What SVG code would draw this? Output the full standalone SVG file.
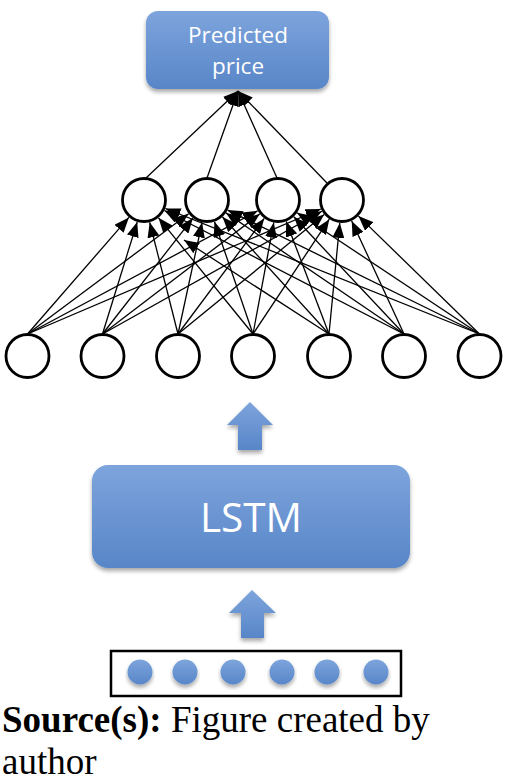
<svg xmlns="http://www.w3.org/2000/svg" width="505" height="783" viewBox="0 0 505 783">
<defs>
<linearGradient id="blue" x1="0" y1="0" x2="0" y2="1">
<stop offset="0" stop-color="#7da4dc"/>
<stop offset="1" stop-color="#5886c8"/>
</linearGradient>
<filter id="sh" x="-10%" y="-10%" width="120%" height="130%">
<feGaussianBlur in="SourceAlpha" stdDeviation="2"/>
<feOffset dx="0" dy="3" result="b"/>
<feComponentTransfer><feFuncA type="linear" slope="0.35"/></feComponentTransfer>
<feMerge><feMergeNode/><feMergeNode in="SourceGraphic"/></feMerge>
</filter>
<marker id="ah" markerUnits="userSpaceOnUse" markerWidth="16" markerHeight="12" refX="15" refY="6" orient="auto">
<path d="M0,0 L15,6 L0,12 z" fill="#000"/>
</marker>
</defs>
<style>
.box{fill:url(#blue);filter:url(#sh)}
.lbl{font-family:"Open Sans","Liberation Sans",sans-serif;fill:#fff;text-anchor:middle}
.neuron{fill:#fff;stroke:#000;stroke-width:2.8}
.edge{stroke:#000;stroke-width:1.3;fill:none;marker-end:url(#ah)}
.dot{fill:url(#blue);filter:url(#sh)}
.cap{font-family:"Liberation Serif","Times New Roman",serif;font-size:37px;fill:#000}
</style>

<g id="connectors">
<line class="edge" x1="146" y1="178" x2="238" y2="91"/>
<line class="edge" x1="207" y1="178" x2="238" y2="91"/>
<line class="edge" x1="277" y1="178" x2="238" y2="91"/>
<line class="edge" x1="327" y1="183" x2="238" y2="91"/>

<line class="edge" x1="27.5" y1="334" x2="128.9" y2="217.4"/>
<line class="edge" x1="102.5" y1="334" x2="137.2" y2="222"/>
<line class="edge" x1="178" y1="334" x2="149.7" y2="222.3"/>
<line class="edge" x1="253" y1="334" x2="158.5" y2="217.8"/>
<line class="edge" x1="329" y1="334" x2="184" y2="240"/>
<line class="edge" x1="404" y1="334" x2="164.4" y2="210.5"/>
<line class="edge" x1="479.5" y1="334" x2="165.4" y2="208.5"/>

<line class="edge" x1="27.5" y1="334" x2="188.6" y2="213.8"/>
<line class="edge" x1="102.5" y1="334" x2="192.9" y2="218.1"/>
<line class="edge" x1="178" y1="334" x2="202.1" y2="222.5"/>
<line class="edge" x1="253" y1="334" x2="214.5" y2="221.8"/>
<line class="edge" x1="329" y1="334" x2="222.5" y2="217"/>
<line class="edge" x1="404" y1="334" x2="226" y2="212.9"/>
<line class="edge" x1="479.5" y1="334" x2="227.6" y2="210.1"/>

<line class="edge" x1="27.5" y1="334" x2="257.7" y2="210.8"/>
<line class="edge" x1="102.5" y1="334" x2="259.7" y2="214"/>
<line class="edge" x1="178" y1="334" x2="264.2" y2="218.4"/>
<line class="edge" x1="253" y1="334" x2="273.8" y2="222.6"/>
<line class="edge" x1="329" y1="334" x2="286.2" y2="221.5"/>
<line class="edge" x1="404" y1="334" x2="293.8" y2="216.8"/>
<line class="edge" x1="479.5" y1="334" x2="297.1" y2="212.7"/>

<line class="edge" x1="27.5" y1="334" x2="320.8" y2="209"/>
<line class="edge" x1="102.5" y1="334" x2="321.9" y2="211.2"/>
<line class="edge" x1="178" y1="334" x2="324.2" y2="214.6"/>
<line class="edge" x1="253" y1="334" x2="329.3" y2="219.2"/>
<line class="edge" x1="329" y1="334" x2="339.8" y2="222.9"/>
<line class="edge" x1="404" y1="334" x2="351.7" y2="220.9"/>
<line class="edge" x1="479.5" y1="334" x2="358.5" y2="216.1"/>
</g>

<g id="output">
<rect class="box" x="146" y="11" width="183" height="78" rx="12"/>
<text class="lbl" x="238" y="43" font-size="22.5">Predicted</text>
<text class="lbl" x="238" y="74" font-size="22.5">price</text>
</g>

<g id="hidden-1"><circle class="neuron" cx="144" cy="200" r="21.5"/></g>
<g id="hidden-2"><circle class="neuron" cx="207" cy="200" r="21.5"/></g>
<g id="hidden-3"><circle class="neuron" cx="278" cy="200" r="21.5"/></g>
<g id="hidden-4"><circle class="neuron" cx="342" cy="200" r="21.5"/></g>

<g id="input-1"><circle class="neuron" cx="27.5" cy="356" r="21.5"/></g>
<g id="input-2"><circle class="neuron" cx="102.5" cy="356" r="21.5"/></g>
<g id="input-3"><circle class="neuron" cx="178" cy="356" r="21.5"/></g>
<g id="input-4"><circle class="neuron" cx="253" cy="356" r="21.5"/></g>
<g id="input-5"><circle class="neuron" cx="329" cy="356" r="21.5"/></g>
<g id="input-6"><circle class="neuron" cx="404" cy="356" r="21.5"/></g>
<g id="input-7"><circle class="neuron" cx="479.5" cy="356" r="21.5"/></g>

<g id="arrow-up-1">
<path class="box" d="M250,402 L273,425 L262,425 L262,450 L238,450 L238,425 L227,425 Z"/>
</g>

<g id="lstm">
<rect class="box" x="92" y="465" width="318" height="103" rx="16"/>
<text class="lbl" x="251" y="532" font-size="40.5">LSTM</text>
</g>

<g id="arrow-up-2">
<path class="box" d="M252,590 L276,613 L264,613 L264,638 L241,638 L241,613 L229,613 Z"/>
</g>

<g id="sequence">
<rect x="111" y="651" width="290" height="45" fill="#fff" stroke="#000" stroke-width="2.5"/>
<circle class="dot" cx="140" cy="672" r="12.5"/>
<circle class="dot" cx="185" cy="672" r="12.5"/>
<circle class="dot" cx="233" cy="672" r="12.5"/>
<circle class="dot" cx="282" cy="672" r="12.5"/>
<circle class="dot" cx="327" cy="672" r="12.5"/>
<circle class="dot" cx="376" cy="672" r="12.5"/>
</g>

<g id="caption">
<text class="cap" x="2" y="732"><tspan font-weight="bold">Source(s):</tspan> Figure created by</text>
<text class="cap" x="2" y="774">author</text>
</g>
</svg>
